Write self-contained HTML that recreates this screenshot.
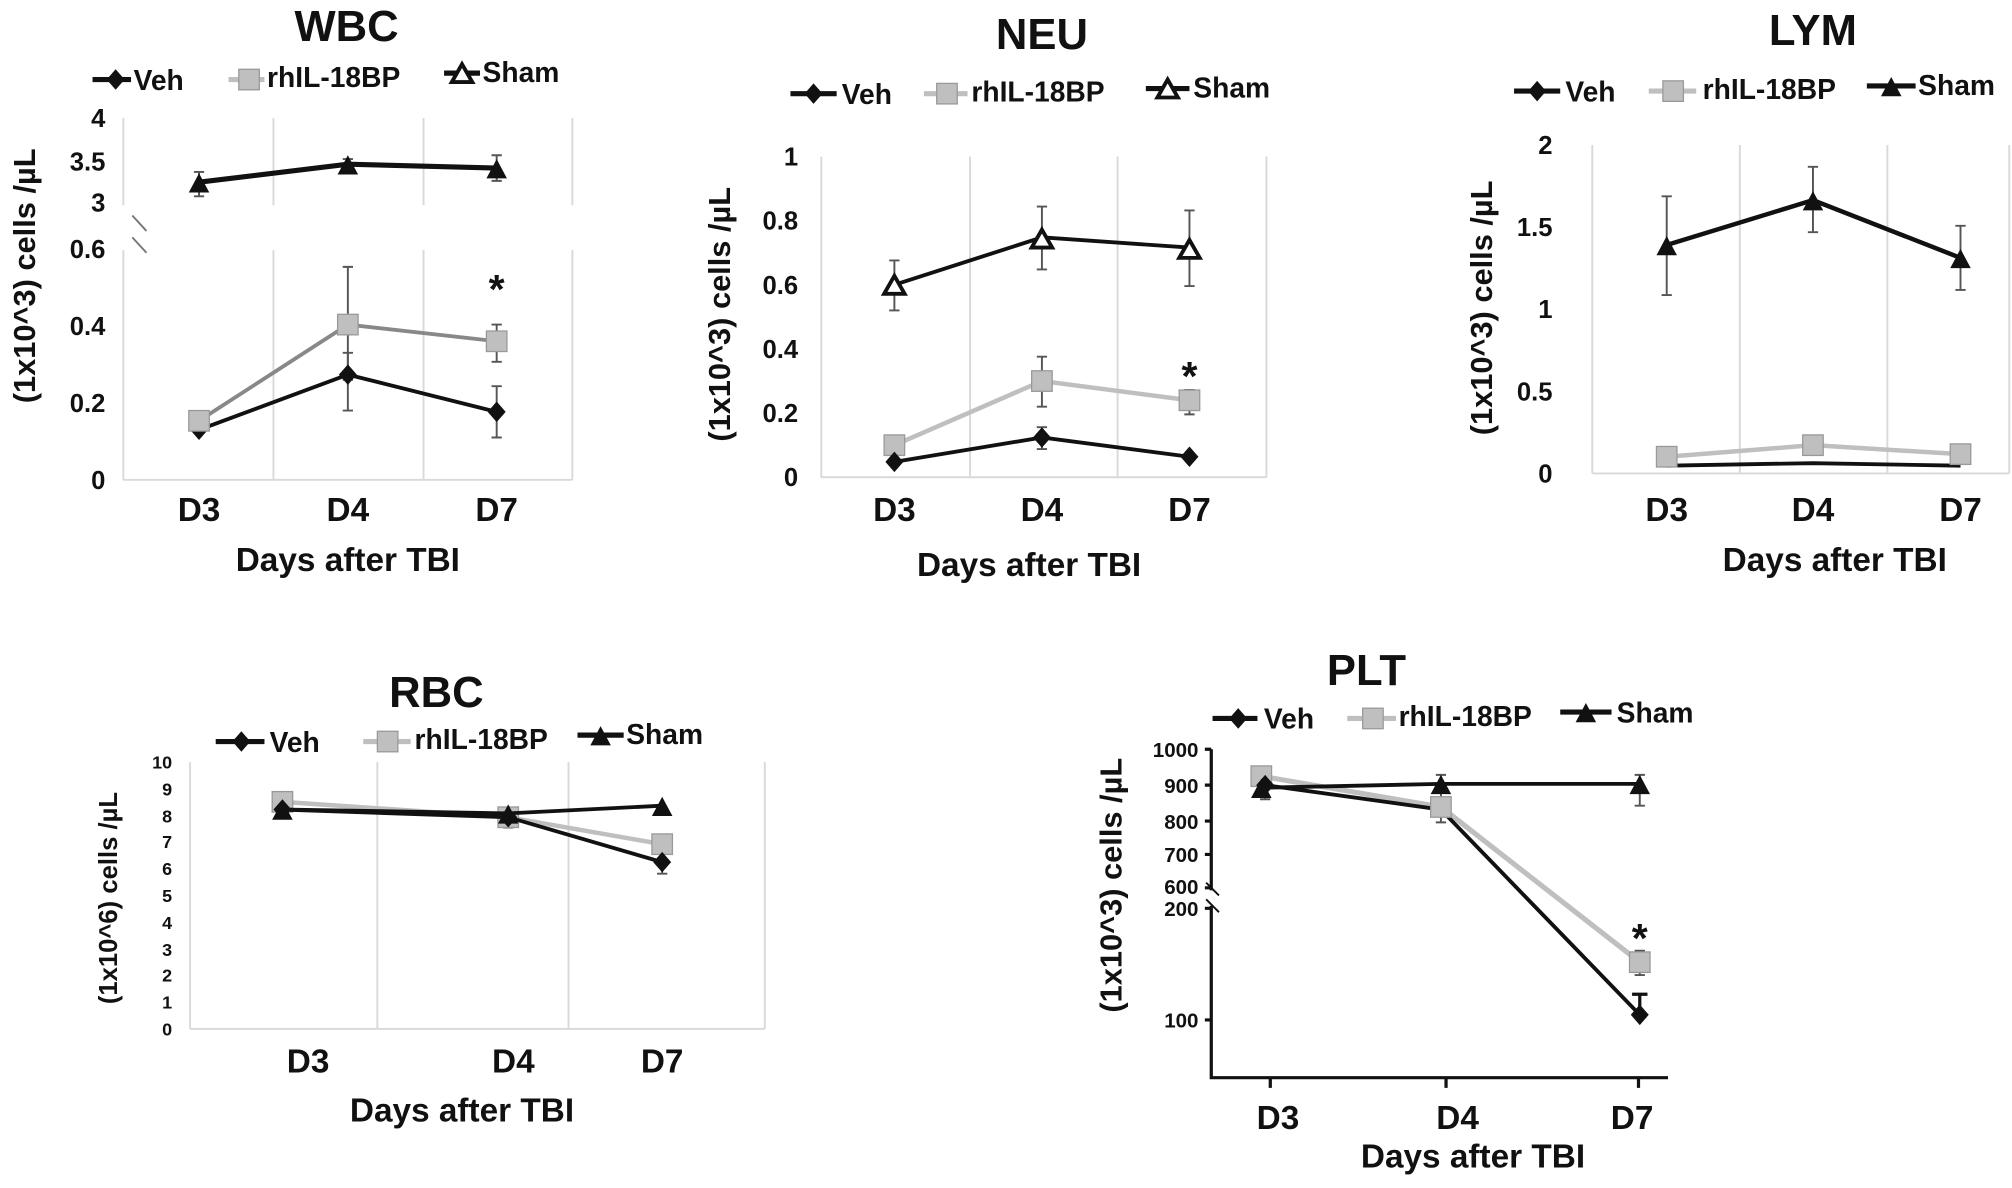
<!DOCTYPE html>
<html><head><meta charset="utf-8"><style>
html,body{margin:0;padding:0;background:#fff;}
svg{display:block;}
text{font-family:"Liberation Sans",sans-serif;font-weight:bold;fill:#111;}
</style></head><body>
<svg width="2012" height="1188" viewBox="0 0 1568 926" xmlns="http://www.w3.org/2000/svg">
<defs>
<path id="d" d="M0,-8 L7,0 L0,8 L-7,0Z" fill="#111"/>
<rect id="s" x="-8" y="-8" width="16" height="16" fill="#bfbfbf" stroke="#999" stroke-width="1"/>
<path id="t" d="M0,-9 L8,6 L-8,6Z" fill="#111"/>
<path id="to" d="M0,-8 L8,6 L-8,6Z" fill="#fff" stroke="#111" stroke-width="3"/>
</defs>
<rect width="1568" height="926" fill="#fff"/>

<!-- ================= WBC ================= -->
<text x="270" y="32" font-size="34" text-anchor="middle">WBC</text>
<g font-size="22">
<line x1="72" y1="62" x2="102" y2="62" stroke="#111" stroke-width="4"/><use href="#d" x="90" y="62"/><text x="104" y="70">Veh</text>
<line x1="178" y1="62" x2="206" y2="62" stroke="#bfbfbf" stroke-width="4"/><use href="#s" x="194" y="62"/><text x="208" y="68">rhIL-18BP</text>
<line x1="346" y1="57" x2="374" y2="57" stroke="#111" stroke-width="4"/><use href="#to" x="360" y="58"/><text x="376" y="64">Sham</text>
</g>
<g stroke="#d9d9d9" stroke-width="1.5">
<line x1="96" y1="92" x2="96" y2="160"/><line x1="213" y1="92" x2="213" y2="160"/><line x1="330" y1="92" x2="330" y2="160"/><line x1="446" y1="92" x2="446" y2="160"/>
<line x1="96" y1="195" x2="96" y2="374"/><line x1="213" y1="195" x2="213" y2="374"/><line x1="330" y1="195" x2="330" y2="374"/><line x1="446" y1="195" x2="446" y2="374"/>
<line x1="96" y1="374" x2="446" y2="374"/>
</g>
<g stroke="#777" stroke-width="1.5"><line x1="103" y1="168" x2="114" y2="180"/><line x1="103" y1="185" x2="114" y2="197"/></g>
<g font-size="20" text-anchor="end">
<text x="82" y="99">4</text><text x="82" y="133">3.5</text><text x="82" y="165">3</text>
<text x="82" y="201">0.6</text><text x="82" y="261">0.4</text><text x="82" y="321">0.2</text><text x="82" y="381">0</text>
</g>
<text transform="translate(27,215) rotate(-90)" font-size="24" text-anchor="middle">(1x10^3) cells /µL</text>
<g stroke="#555" stroke-width="1.5" fill="none">
<path d="M155,134V153M151,134H159M151,153H159"/><path d="M271,124V132M267,124H275M267,132H275"/><path d="M387,121V141M383,121H391M383,141H391"/>
<path d="M271,208V296M267,208H275M267,296H275"/><path d="M387,253V282M383,253H391M383,282H391"/>
<path d="M271,275V320M267,275H275M267,320H275"/><path d="M387,301V341M383,301H391M383,341H391"/>
<path d="M155,322V335M151,322H159"/>
</g>
<polyline points="155,142 271,128 387,131" fill="none" stroke="#111" stroke-width="4"/>
<use href="#t" x="155" y="144"/><use href="#t" x="271" y="130"/><use href="#t" x="387" y="133"/>
<polyline points="155,335 271,292 387,321" fill="none" stroke="#111" stroke-width="3"/>
<polyline points="155,328 271,253 387,266" fill="none" stroke="#888" stroke-width="3"/>
<use href="#d" x="155" y="335"/><use href="#d" x="271" y="292"/><use href="#d" x="387" y="321"/>
<use href="#s" x="155" y="328"/><use href="#s" x="271" y="253"/><use href="#s" x="387" y="266"/>
<text x="387" y="236" font-size="32" text-anchor="middle">*</text>
<g font-size="26" text-anchor="middle"><text x="155" y="406">D3</text><text x="271" y="406">D4</text><text x="387" y="406">D7</text></g>
<text x="271" y="445" font-size="26" text-anchor="middle">Days after TBI</text>

<!-- ================= NEU ================= -->
<text x="812" y="38" font-size="34" text-anchor="middle">NEU</text>
<g font-size="22">
<line x1="616" y1="73" x2="652" y2="73" stroke="#111" stroke-width="4"/><use href="#d" x="634" y="73"/><text x="656" y="81">Veh</text>
<line x1="720" y1="73" x2="754" y2="73" stroke="#bfbfbf" stroke-width="4"/><use href="#s" x="738" y="73"/><text x="757" y="79">rhIL-18BP</text>
<line x1="893" y1="69" x2="927" y2="69" stroke="#111" stroke-width="4"/><use href="#to" x="910" y="70"/><text x="930" y="76">Sham</text>
</g>
<g stroke="#d9d9d9" stroke-width="1.5">
<line x1="640" y1="122" x2="640" y2="372"/><line x1="756" y1="122" x2="756" y2="372"/><line x1="871" y1="122" x2="871" y2="372"/><line x1="987" y1="122" x2="987" y2="372"/>
<line x1="640" y1="372" x2="987" y2="372"/>
</g>
<g font-size="20" text-anchor="end">
<text x="622" y="129">1</text><text x="622" y="179">0.8</text><text x="622" y="229">0.6</text><text x="622" y="279">0.4</text><text x="622" y="329">0.2</text><text x="622" y="379">0</text>
</g>
<text transform="translate(569,245) rotate(-90)" font-size="24" text-anchor="middle">(1x10^3) cells /µL</text>
<g stroke="#555" stroke-width="1.5" fill="none">
<path d="M697,203V242M693,203H701M693,242H701"/><path d="M812,161V210M808,161H816M808,210H816"/><path d="M927,164V223M923,164H931M923,223H931"/>
<path d="M812,278V317M808,278H816M808,317H816"/><path d="M927,304V323M923,304H931M923,323H931"/>
<path d="M812,333V350M808,333H816M808,350H816"/>
</g>
<polyline points="697,222 812,185 927,193" fill="none" stroke="#111" stroke-width="3"/>
<use href="#to" x="697" y="223"/><use href="#to" x="812" y="187"/><use href="#to" x="927" y="195"/>
<polyline points="697,347 812,297 927,312" fill="none" stroke="#bfbfbf" stroke-width="3.5"/>
<polyline points="697,360 812,341 927,356" fill="none" stroke="#111" stroke-width="3"/>
<use href="#s" x="697" y="347"/><use href="#s" x="812" y="297"/><use href="#s" x="927" y="312"/>
<use href="#d" x="697" y="360"/><use href="#d" x="812" y="341"/><use href="#d" x="927" y="356"/>
<text x="927" y="304" font-size="32" text-anchor="middle">*</text>
<g font-size="26" text-anchor="middle"><text x="697" y="406">D3</text><text x="812" y="406">D4</text><text x="927" y="406">D7</text></g>
<text x="802" y="449" font-size="26" text-anchor="middle">Days after TBI</text>

<!-- ================= LYM ================= -->
<text x="1413" y="35" font-size="34" text-anchor="middle">LYM</text>
<g font-size="22">
<line x1="1180" y1="71" x2="1216" y2="71" stroke="#111" stroke-width="4"/><use href="#d" x="1198" y="71"/><text x="1220" y="79">Veh</text>
<line x1="1285" y1="71" x2="1322" y2="71" stroke="#bfbfbf" stroke-width="4"/><use href="#s" x="1304" y="71"/><text x="1327" y="77">rhIL-18BP</text>
<line x1="1455" y1="67" x2="1493" y2="67" stroke="#111" stroke-width="4"/><use href="#t" x="1474" y="69"/><text x="1495" y="74">Sham</text>
</g>
<g stroke="#d9d9d9" stroke-width="1.5">
<line x1="1241" y1="113" x2="1241" y2="369"/><line x1="1356" y1="113" x2="1356" y2="369"/><line x1="1471" y1="113" x2="1471" y2="369"/><line x1="1566" y1="113" x2="1566" y2="369"/>
<line x1="1241" y1="369" x2="1566" y2="369"/>
</g>
<g font-size="20" text-anchor="end">
<text x="1210" y="120">2</text><text x="1210" y="184">1.5</text><text x="1210" y="248">1</text><text x="1210" y="312">0.5</text><text x="1210" y="376">0</text>
</g>
<text transform="translate(1163,240) rotate(-90)" font-size="24" text-anchor="middle">(1x10^3) cells /µL</text>
<g stroke="#555" stroke-width="1.5" fill="none">
<path d="M1299,153V230M1295,153H1303M1295,230H1303"/><path d="M1413,130V181M1409,130H1417M1409,181H1417"/><path d="M1528,176V226M1524,176H1532M1524,226H1532"/>
</g>
<polyline points="1299,191 1413,156 1528,201" fill="none" stroke="#111" stroke-width="3.5"/>
<use href="#t" x="1299" y="193"/><use href="#t" x="1413" y="158"/><use href="#t" x="1528" y="203"/>
<polyline points="1299,356 1413,347 1528,354" fill="none" stroke="#bfbfbf" stroke-width="3.5"/>
<polyline points="1299,363 1413,361 1528,363" fill="none" stroke="#111" stroke-width="3"/>
<use href="#s" x="1299" y="356"/><use href="#s" x="1413" y="347"/><use href="#s" x="1528" y="354"/>
<g font-size="26" text-anchor="middle"><text x="1299" y="406">D3</text><text x="1413" y="406">D4</text><text x="1528" y="406">D7</text></g>
<text x="1430" y="445" font-size="26" text-anchor="middle">Days after TBI</text>

<!-- ================= RBC ================= -->
<text x="340" y="551" font-size="34" text-anchor="middle">RBC</text>
<g font-size="22">
<line x1="168" y1="578" x2="206" y2="578" stroke="#111" stroke-width="4"/><use href="#d" x="188" y="578"/><text x="210" y="586">Veh</text>
<line x1="283" y1="578" x2="320" y2="578" stroke="#bfbfbf" stroke-width="4"/><use href="#s" x="302" y="578"/><text x="323" y="584">rhIL-18BP</text>
<line x1="450" y1="573" x2="486" y2="573" stroke="#111" stroke-width="4"/><use href="#t" x="468" y="575"/><text x="488" y="580">Sham</text>
</g>
<g stroke="#d9d9d9" stroke-width="1.5">
<line x1="148" y1="594" x2="148" y2="802"/><line x1="294" y1="594" x2="294" y2="802"/><line x1="443" y1="594" x2="443" y2="802"/><line x1="596" y1="594" x2="596" y2="802"/>
<line x1="148" y1="802" x2="596" y2="802"/>
</g>
<g font-size="14" text-anchor="end">
<text x="134" y="599">10</text><text x="134" y="620">9</text><text x="134" y="641">8</text><text x="134" y="661">7</text><text x="134" y="682">6</text><text x="134" y="703">5</text><text x="134" y="724">4</text><text x="134" y="745">3</text><text x="134" y="765">2</text><text x="134" y="786">1</text><text x="134" y="807">0</text>
</g>
<text transform="translate(91,700) rotate(-90)" font-size="20" text-anchor="middle">(1x10^6) cells /µL</text>
<g stroke="#555" stroke-width="1.5" fill="none">
<path d="M396,630V645M392,645H400"/><path d="M516,663V681M512,681H520"/>
</g>
<polyline points="220,625 396,637 516,658" fill="none" stroke="#bfbfbf" stroke-width="3.5"/>
<use href="#s" x="220" y="625"/><use href="#s" x="396" y="637"/><use href="#s" x="516" y="658"/>
<polyline points="220,631 396,637 516,672" fill="none" stroke="#111" stroke-width="3"/>
<polyline points="220,631 396,634 516,628" fill="none" stroke="#111" stroke-width="3"/>
<use href="#d" x="220" y="631"/><use href="#d" x="396" y="637"/><use href="#d" x="516" y="672"/>
<use href="#t" x="220" y="633"/><use href="#t" x="396" y="636"/><use href="#t" x="516" y="630"/>
<g font-size="26" text-anchor="middle"><text x="240" y="836">D3</text><text x="400" y="836">D4</text><text x="516" y="836">D7</text></g>
<text x="360" y="874" font-size="26" text-anchor="middle">Days after TBI</text>

<!-- ================= PLT ================= -->
<text x="1065" y="534" font-size="34" text-anchor="middle">PLT</text>
<g font-size="22">
<line x1="945" y1="560" x2="980" y2="560" stroke="#111" stroke-width="4"/><use href="#d" x="965" y="560"/><text x="985" y="568">Veh</text>
<line x1="1050" y1="560" x2="1088" y2="560" stroke="#bfbfbf" stroke-width="4"/><use href="#s" x="1070" y="560"/><text x="1090" y="566">rhIL-18BP</text>
<line x1="1216" y1="555" x2="1256" y2="555" stroke="#111" stroke-width="4"/><use href="#t" x="1236" y="557"/><text x="1260" y="563">Sham</text>
</g>
<g stroke="#111" stroke-width="2.5" fill="none">
<path d="M944,584V840H1300"/>
<path d="M939,584H944M939,612H944M939,640H944M939,666H944M939,692H944M939,708H944M939,795H944"/>
<path d="M990,840V848M1127,840V848M1277,840V848"/>
</g>
<rect x="941" y="694" width="8" height="12" fill="#fff"/>
<g stroke="#111" stroke-width="1.5"><line x1="940" y1="688" x2="950" y2="698"/><line x1="940" y1="701" x2="950" y2="711"/></g>
<g font-size="16" text-anchor="end">
<text x="934" y="590">1000</text><text x="934" y="618">900</text><text x="934" y="646">800</text><text x="934" y="672">700</text><text x="934" y="697">600</text><text x="934" y="714">200</text><text x="934" y="801">100</text>
</g>
<text transform="translate(874,690) rotate(-90)" font-size="24" text-anchor="middle">(1x10^3) cells /µL</text>
<g stroke="#555" stroke-width="1.5" fill="none">
<path d="M1123,604V630M1119,604H1127"/><path d="M1278,604V628M1274,604H1282M1274,628H1282"/><path d="M986,612V623M982,623H990"/>
<path d="M1123,625V641M1119,641H1127"/><path d="M1278,741V760M1274,741H1282M1274,760H1282"/>
</g>
<g stroke="#111" stroke-width="2.5" fill="none"><path d="M1278,775V791M1272,775H1284"/></g>
<polyline points="983,605 1123,629 1278,750" fill="none" stroke="#bfbfbf" stroke-width="4"/>
<polyline points="986,612 1123,631 1278,791" fill="none" stroke="#111" stroke-width="3"/>
<polyline points="983,614 1123,611 1278,611" fill="none" stroke="#111" stroke-width="3"/>
<use href="#s" x="983" y="605"/><use href="#s" x="1123" y="629"/><use href="#s" x="1278" y="750"/>
<use href="#d" x="986" y="612"/><use href="#d" x="1278" y="791"/>
<use href="#t" x="983" y="616"/><use href="#t" x="1123" y="613"/><use href="#t" x="1278" y="613"/>
<text x="1278" y="742" font-size="32" text-anchor="middle">*</text>
<g font-size="26" text-anchor="middle"><text x="996" y="880">D3</text><text x="1136" y="880">D4</text><text x="1272" y="880">D7</text></g>
<text x="1148" y="910" font-size="26" text-anchor="middle">Days after TBI</text>
</svg>
</body></html>
